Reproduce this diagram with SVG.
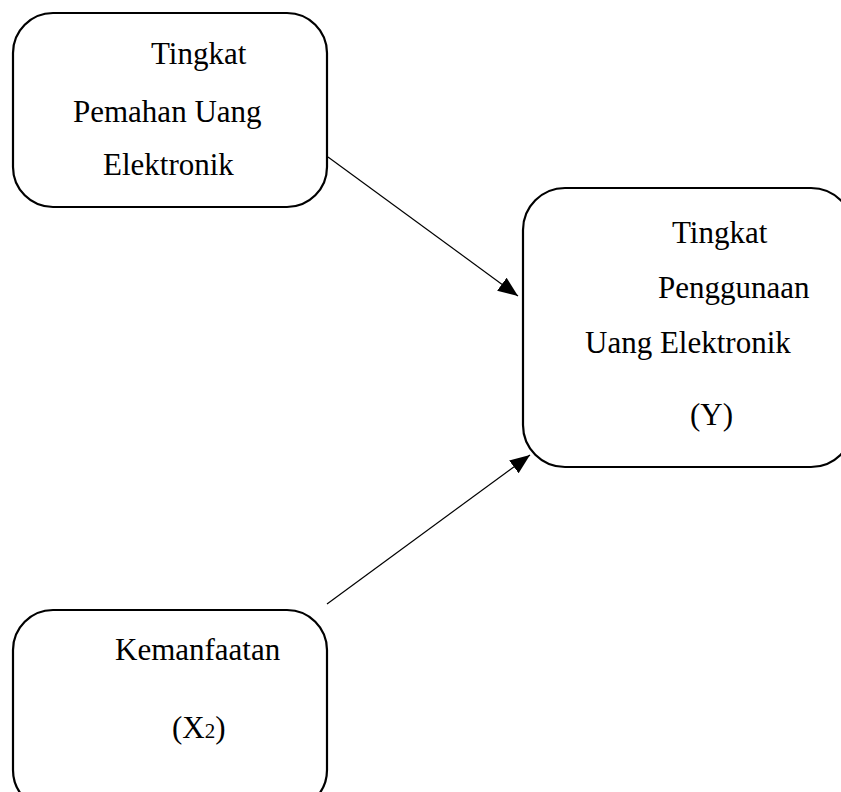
<svg xmlns="http://www.w3.org/2000/svg" width="841" height="792" viewBox="0 0 841 792">
<style>
.box{fill:#fff;stroke:#000;stroke-width:2.2}
.t{font-family:"Liberation Serif","Times New Roman",serif;font-size:31px;fill:#000}
.c{stroke:#000;stroke-width:1.2;fill:none}
</style>
<defs>
<marker id="ah" viewBox="0 0 20 16" refX="20" refY="8" markerWidth="20" markerHeight="16" orient="auto" markerUnits="userSpaceOnUse">
<path d="M0,0 L20,8 L0,16 Z" fill="#000"/>
</marker>
</defs>
<rect width="841" height="792" fill="#fff"/>
<g id="connectors">
<line class="c" x1="328" y1="157" x2="518" y2="296" marker-end="url(#ah)"/>
<line class="c" x1="327" y1="604" x2="530" y2="455" marker-end="url(#ah)"/>
</g>
<g id="x1">
<rect class="box" x="13" y="13" width="314" height="194" rx="40" ry="40"/>
<text class="t" x="151" y="64">Tingkat</text>
<text class="t" x="73" y="122">Pemahan Uang</text>
<text class="t" x="103" y="175">Elektronik</text>
</g>
<g id="y">
<rect class="box" x="523" y="188" width="330" height="279" rx="42" ry="42"/>
<text class="t" x="672" y="243">Tingkat</text>
<text class="t" x="658" y="298">Penggunaan</text>
<text class="t" x="585" y="353">Uang Elektronik</text>
<text class="t" x="690" y="425">(Y)</text>
</g>
<g id="x2">
<rect class="box" x="13" y="610" width="314" height="200" rx="40" ry="40"/>
<text class="t" x="115" y="660">Kemanfaatan</text>
<text class="t" x="172" y="738">(X<tspan font-size="21">2</tspan>)</text>
</g>
</svg>
